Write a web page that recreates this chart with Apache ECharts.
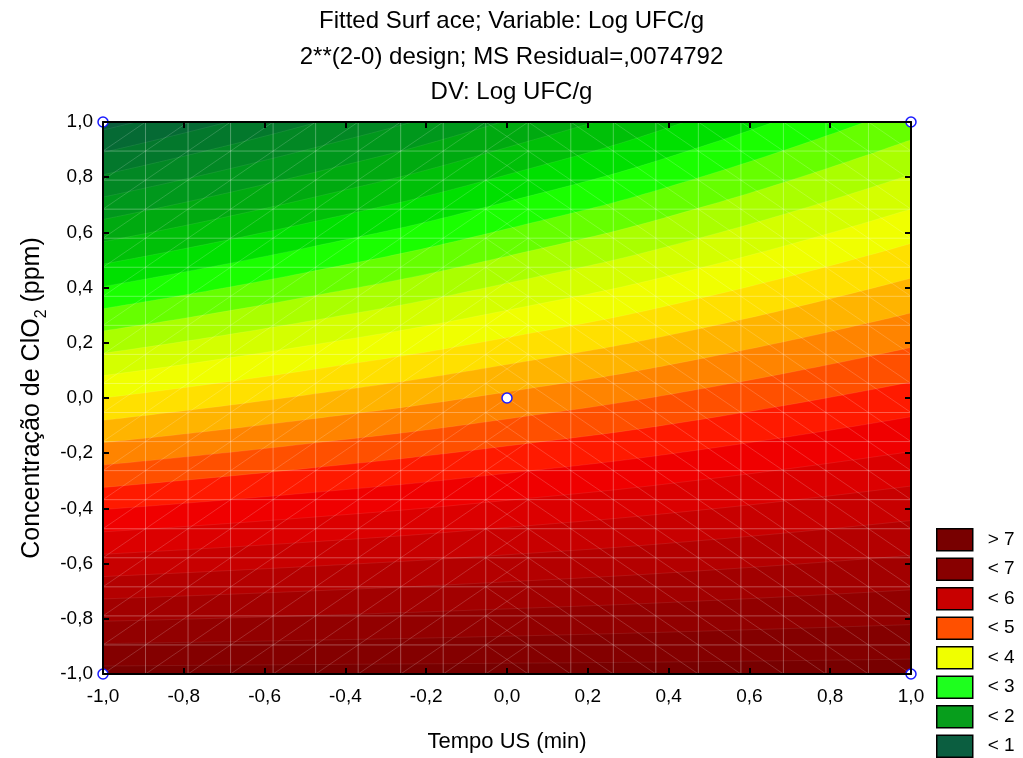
<!DOCTYPE html>
<html>
<head>
<meta charset="utf-8">
<script src="https://cdn.jsdelivr.net/npm/echarts@6/dist/echarts.min.js"></script>
<style>
  html, body { margin: 0; padding: 0; background: #fff; }
  #chart { width: 1023px; height: 758px; }
</style>
</head>
<body>
<div id="chart"></div>
<script>
// contour levels of Log UFC/g (every 0,25)
const levels = [1, 1.25, 1.5, 1.75, 2, 2.25, 2.5, 2.75, 3, 3.25, 3.5, 3.75, 4,
  4.25, 4.5, 4.75, 5, 5.25, 5.5, 5.75, 6, 6.25, 6.5, 6.75, 7]

// x positions where the contour lines were read
const contourX = [-1, -0.5, 0, 0.5, 1]

// y of each contour line (same order as levels) at every contourX
const yAtXm1 = [0.971, 0.890, 0.809, 0.728, 0.647, 0.566, 0.485, 0.404, 0.324, 0.243, 0.162, 0.081, 0.000,
  -0.081, -0.162, -0.243, -0.324, -0.404, -0.485, -0.566, -0.647, -0.728, -0.809, -0.890, -0.971]
const yAtXm05 = [1.164, 1.075, 0.987, 0.898, 0.809, 0.720, 0.632, 0.543, 0.454, 0.365, 0.276, 0.188, 0.099,
  0.010, -0.079, -0.167, -0.256, -0.345, -0.434, -0.523, -0.611, -0.700, -0.789, -0.878, -0.966]
const yAtX0 = [1.400, 1.301, 1.203, 1.105, 1.006, 0.908, 0.809, 0.711, 0.613, 0.514, 0.416, 0.318, 0.219,
  0.121, 0.022, -0.076, -0.174, -0.273, -0.371, -0.469, -0.568, -0.666, -0.764, -0.863, -0.961]
const yAtX05 = [1.692, 1.582, 1.471, 1.361, 1.251, 1.141, 1.030, 0.920, 0.810, 0.699, 0.589, 0.479, 0.369,
  0.258, 0.148, 0.038, -0.073, -0.183, -0.293, -0.403, -0.514, -0.624, -0.734, -0.844, -0.955]
const yAtX1 = [2.066, 1.940, 1.815, 1.689, 1.564, 1.438, 1.313, 1.187, 1.061, 0.936, 0.810, 0.685, 0.560,
  0.434, 0.308, 0.183, 0.058, -0.068, -0.194, -0.319, -0.444, -0.570, -0.695, -0.821, -0.946]

// design points (2**2 + centre)
const designX = [-1, -1, 1, 1, 0]
const designY = [-1, 1, -1, 1, 0]

const tickLabels = ['-1,0', '-0,8', '-0,6', '-0,4', '-0,2', '0,0', '0,2', '0,4', '0,6', '0,8', '1,0']

const legendNames = ['> 7', '< 7', '< 6', '< 5', '< 4', '< 3', '< 2', '< 1']

// styles
const bandColors = ['#0b5e3c', '#056a34', '#03782c', '#028824', '#00981c', '#00aa10', '#00c008',
  '#00e000', '#1aff00', '#66ff00', '#aaff00', '#d4ff00', '#f0ff00', '#ffe000', '#ffb400', '#ff8400',
  '#ff5000', '#ff1a00', '#f00000', '#dc0000', '#c80000', '#b40000', '#a20000', '#920000', '#840000',
  '#780000']
const legendColors = ['#780000', '#880000', '#c80000', '#ff5000', '#f0ff00', '#1eff1e', '#079e1c', '#0b5e40']
const meshCount = 19
const font = 'Liberation Sans, Arial, sans-serif'

const chart = echarts.init(document.getElementById('chart'))

const columns = [yAtXm1, yAtXm05, yAtX0, yAtX05, yAtX1]
const contourSeries = levels.map((lv, k) => ({
  name: 'z' + lv,
  type: 'line',
  z: 2,
  smooth: true,
  showSymbol: false,
  silent: true,
  clip: true,
  lineStyle: { width: 1, color: 'rgba(255,255,255,0.08)' },
  areaStyle: { color: bandColors[k + 1], opacity: 1, origin: 'start' },
  data: contourX.map((x, i) => [x, columns[i][k]]),
}))

// light triangulated mesh drawn over the surface: [x1, y1, x2, y2, kind]
const meshSegs = []
const step = 2 / meshCount
for (let i = 0; i <= meshCount; i++) {
  const v = -1 + i * step
  meshSegs.push([v, -1, v, 1, 0])
  meshSegs.push([-1, v, 1, v, 0])
}
for (let i = 0; i < meshCount; i++) {
  const x0 = -1 + i * step
  const x1 = x0 + step
  const cx = (x0 + x1) / 2
  for (let j = 0; j < meshCount; j++) {
    const y0 = -1 + j * step
    const y1 = y0 + step
    if (cx <= 0.001) meshSegs.push([x0, y0, x1, y1, 1])
    if (cx >= -0.001) meshSegs.push([x0, y1, x1, y0, 1])
  }
}

const tickFmt = (v) => {
  const idx = Math.round((v + 1) / 0.2)
  return tickLabels[idx] !== undefined ? tickLabels[idx] : ''
}

const axisCommon = {
  type: 'value',
  min: -1,
  max: 1,
  interval: 0.2,
  z: 10,
  axisLine: { show: true, onZero: false, lineStyle: { color: '#000', width: 2 } },
  axisTick: { show: true, inside: true, length: 6, lineStyle: { color: '#000', width: 2 } },
  splitLine: { show: false },
}

const option = {
  animation: false,
  textStyle: { fontFamily: font },
  title: {
    text: 'Fitted Surf ace; Variable: Log UFC/g\n2**(2-0) design; MS Residual=,0074792\nDV: Log UFC/g',
    left: 'center',
    top: -1,
    textStyle: { fontSize: 24, fontWeight: 'normal', color: '#000', lineHeight: 35.5, fontFamily: font },
  },
  grid: {
    left: 103,
    top: 122,
    width: 808,
    height: 554,
    show: true,
    backgroundColor: bandColors[0],
    borderWidth: 0,
  },
  legend: {
    orient: 'vertical',
    left: 936,
    top: 528,
    height: 245,
    padding: 0,
    icon: 'rect',
    itemWidth: 36,
    itemHeight: 22,
    itemGap: 6,
    selectedMode: false,
    itemStyle: { borderColor: '#000', borderWidth: 1.5, opacity: 1 },
    textStyle: { fontSize: 19, lineHeight: 20, color: '#000', fontFamily: font, padding: [0, 0, 0, 10] },
    data: legendNames,
  },
  xAxis: [
    Object.assign({}, axisCommon, {
      position: 'bottom',
      name: 'Tempo US (min)',
      nameLocation: 'middle',
      nameGap: 57,
      nameTextStyle: { fontSize: 22, color: '#000', fontFamily: font },
      axisLabel: { fontSize: 19, color: '#000', margin: 13, formatter: tickFmt },
    }),
    Object.assign({}, axisCommon, { position: 'top', axisLabel: { show: false } }),
  ],
  yAxis: [
    Object.assign({}, axisCommon, {
      position: 'left',
      name: '{a|Concentração de ClO}{s|2}{a| (ppm)}',
      nameLocation: 'middle',
      nameGap: 58,
      nameTextStyle: {
        color: '#000',
        rich: {
          a: { fontSize: 25, color: '#000', fontFamily: font, lineHeight: 30, verticalAlign: 'bottom' },
          s: { fontSize: 16, color: '#000', fontFamily: font, lineHeight: 17, verticalAlign: 'bottom', padding: [0, 0, -5, 0] },
        },
      },
      axisLabel: { fontSize: 19, color: '#000', margin: 10, formatter: tickFmt },
    }),
    Object.assign({}, axisCommon, { position: 'right', axisLabel: { show: false } }),
  ],
  series: [
    ...contourSeries,
    {
      type: 'custom',
      z: 4,
      silent: true,
      clip: true,
      encode: { x: [0, 2], y: [1, 3] },
      renderItem: (params, api) => {
        const p1 = api.coord([api.value(0), api.value(1)])
        const p2 = api.coord([api.value(2), api.value(3)])
        const diag = api.value(4) === 1
        return {
          type: 'line',
          shape: { x1: p1[0], y1: p1[1], x2: p2[0], y2: p2[1] },
          style: {
            stroke: diag ? 'rgba(255,255,255,0.22)' : 'rgba(255,255,255,0.3)',
            lineWidth: diag ? 0.8 : 1,
          },
        }
      },
      data: meshSegs,
    },
    {
      type: 'scatter',
      z: 5,
      symbol: 'circle',
      symbolSize: 10,
      silent: true,
      itemStyle: { color: '#fff', borderColor: '#1a1aff', borderWidth: 1.5, opacity: 1 },
      data: designX.map((x, i) => [x, designY[i]]),
    },
    ...legendNames.map((n, i) => ({
      name: n,
      type: 'scatter',
      data: [],
      itemStyle: { color: legendColors[i], opacity: 1 },
    })),
  ],
}

chart.setOption(option)
window.addEventListener('resize', () => chart.resize())
</script>
</body>
</html>
